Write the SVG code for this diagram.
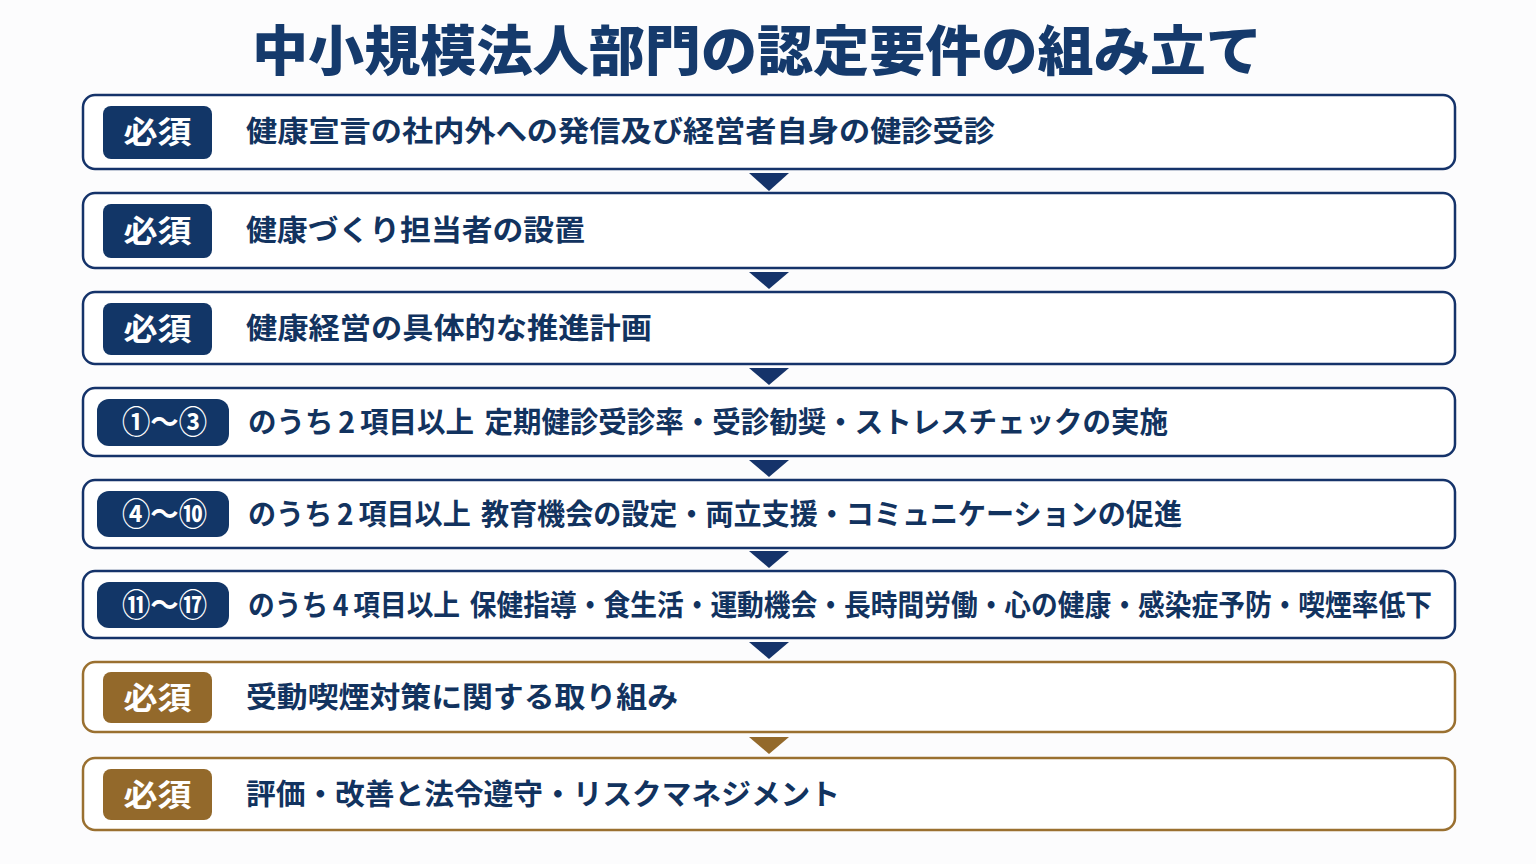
<svg xmlns="http://www.w3.org/2000/svg" width="1536" height="864" viewBox="0 0 1536 864">
<style>
.bg{fill:#fcfcfd}
.box{fill:#ffffff;stroke:#15336a;stroke-width:2.5}
.boxg{fill:#ffffff;stroke:#9a7030;stroke-width:2.5}
.badge{fill:#123667}
.badgeg{fill:#93692b}
.title{font-family:"Noto Sans CJK JP","Noto Sans",sans-serif;font-weight:900;font-size:54px;fill:#153a6c}
.t{font-family:"Noto Sans CJK JP","Noto Sans",sans-serif;font-weight:700;font-size:29px;fill:#12335f}
.bt{font-family:"Noto Sans CJK JP","Noto Sans",sans-serif;font-weight:700;font-size:31px;fill:#ffffff;text-anchor:middle}
.arr{fill:#15336a}
.arrg{fill:#93692b}
</style>
<rect class="bg" x="0" y="0" width="1536" height="864"/>
<text class="title" x="252" y="71" textLength="1010" lengthAdjust="spacingAndGlyphs">中小規模法人部門の認定要件の組み立て</text>

<g id="connectors">
<polygon class="arr" points="749,173 789,173 769,191"/>
<polygon class="arr" points="749,272 789,272 769,289"/>
<polygon class="arr" points="749,368 789,368 769,385"/>
<polygon class="arr" points="749,460 789,460 769,477"/>
<polygon class="arr" points="749,551 789,551 769,568"/>
<polygon class="arr" points="749,642 789,642 769,659"/>
<polygon class="arrg" points="749,737 789,737 769,754"/>
</g>

<g id="node1">
<rect class="box" x="83" y="95" width="1372" height="74" rx="12"/>
<rect class="badge" x="103" y="106" width="109" height="53" rx="8"/>
<text class="bt" x="157.5" y="143" textLength="68" lengthAdjust="spacingAndGlyphs">必須</text>
<text class="t" x="246" y="142" textLength="749" lengthAdjust="spacingAndGlyphs">健康宣言の社内外への発信及び経営者自身の健診受診</text>
</g>

<g id="node2">
<rect class="box" x="83" y="193" width="1372" height="75" rx="12"/>
<rect class="badge" x="103" y="204" width="109" height="54" rx="8"/>
<text class="bt" x="157.5" y="242" textLength="68" lengthAdjust="spacingAndGlyphs">必須</text>
<text class="t" x="246" y="241" textLength="339" lengthAdjust="spacingAndGlyphs">健康づくり担当者の設置</text>
</g>

<g id="node3">
<rect class="box" x="83" y="292" width="1372" height="72" rx="12"/>
<rect class="badge" x="103" y="303" width="109" height="52" rx="8"/>
<text class="bt" x="157.5" y="340" textLength="68" lengthAdjust="spacingAndGlyphs">必須</text>
<text class="t" x="246" y="339" textLength="406" lengthAdjust="spacingAndGlyphs">健康経営の具体的な推進計画</text>
</g>

<g id="node4">
<rect class="box" x="83" y="388" width="1372" height="68" rx="12"/>
<rect class="badge" x="97" y="399" width="132" height="47" rx="12"/>
<text class="bt" x="164.5" y="433" textLength="85" lengthAdjust="spacingAndGlyphs">①～③</text>
<text class="t" x="248" y="433" textLength="920" lengthAdjust="spacingAndGlyphs">のうち<tspan dx="5">2</tspan><tspan dx="5">項目以上 </tspan><tspan dx="4">定期健診受診率・受診勧奨・ストレスチェックの実施</tspan></text>
</g>

<g id="node5">
<rect class="box" x="83" y="480" width="1372" height="68" rx="12"/>
<rect class="badge" x="97" y="491" width="132" height="46" rx="12"/>
<text class="bt" x="164.5" y="525" textLength="85" lengthAdjust="spacingAndGlyphs">④～⑩</text>
<text class="t" x="248" y="525" textLength="934" lengthAdjust="spacingAndGlyphs">のうち<tspan dx="5">2</tspan><tspan dx="5">項目以上 </tspan><tspan dx="4">教育機会の設定・両立支援・コミュニケーションの促進</tspan></text>
</g>

<g id="node6">
<rect class="box" x="83" y="571" width="1372" height="67" rx="12"/>
<rect class="badge" x="97" y="582" width="132" height="46" rx="12"/>
<text class="bt" x="164.5" y="616" textLength="85" lengthAdjust="spacingAndGlyphs">⑪～⑰</text>
<text class="t" x="248" y="616" textLength="1184" lengthAdjust="spacingAndGlyphs">のうち<tspan dx="5">4</tspan><tspan dx="5">項目以上 </tspan><tspan dx="4">保健指導・食生活・運動機会・長時間労働・心の健康・感染症予防・喫煙率低下</tspan></text>
</g>

<g id="node7">
<rect class="boxg" x="83" y="662" width="1372" height="70" rx="12"/>
<rect class="badgeg" x="103" y="672" width="109" height="51" rx="8"/>
<text class="bt" x="157.5" y="709" textLength="68" lengthAdjust="spacingAndGlyphs">必須</text>
<text class="t" x="246" y="708" textLength="432" lengthAdjust="spacingAndGlyphs">受動喫煙対策に関する取り組み</text>
</g>

<g id="node8">
<rect class="boxg" x="83" y="758" width="1372" height="72" rx="12"/>
<rect class="badgeg" x="103" y="769" width="109" height="51" rx="8"/>
<text class="bt" x="157.5" y="806" textLength="68" lengthAdjust="spacingAndGlyphs">必須</text>
<text class="t" x="246" y="805" textLength="594" lengthAdjust="spacingAndGlyphs">評価・改善と法令遵守・リスクマネジメント</text>
</g>
</svg>
